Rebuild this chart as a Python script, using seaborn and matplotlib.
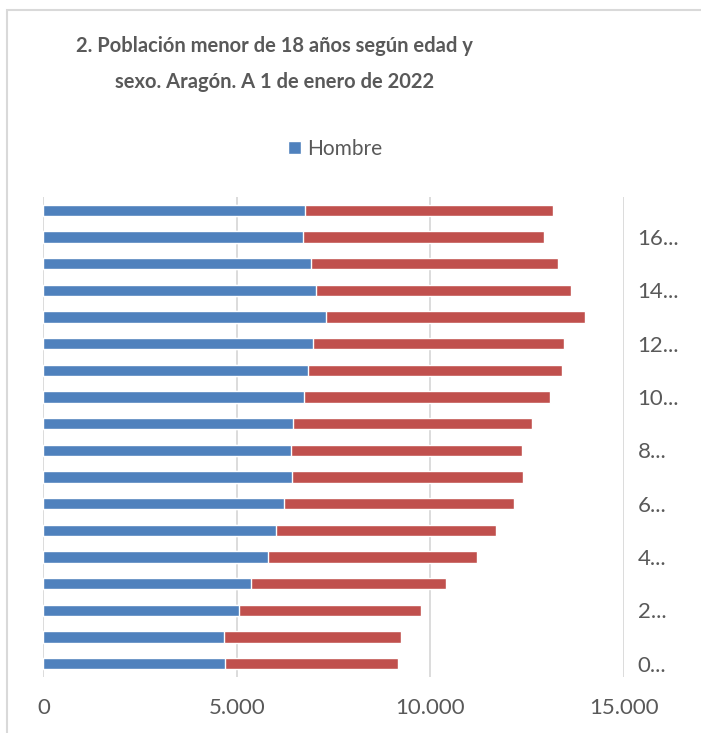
import matplotlib
matplotlib.use("Agg")
import matplotlib.pyplot as plt
from matplotlib.ticker import FuncFormatter
from matplotlib.patches import Rectangle
import seaborn as sns
import pandas as pd

# edad (años cumplidos) y poblacion por sexo, Aragón 1/1/2022
edades = [str(a) for a in range(18)]
hombres = [4690, 4680, 5050, 5360, 5795, 6010, 6210, 6435, 6390,
           6460, 6735, 6840, 6970, 7305, 7045, 6915, 6720, 6755]
mujeres = [4470, 4560, 4720, 5050, 5415, 5680, 5955, 5955, 5980,
           6180, 6365, 6565, 6495, 6695, 6600, 6385, 6210, 6425]
etiquetas_y = [f"{a}..." if int(a) % 2 == 0 else "" for a in edades]
ticks_x = [0, 5000, 10000, 15000]

df = pd.DataFrame({"edad": edades, "Hombre": hombres, "Mujer": mujeres})
df["total"] = df["Hombre"] + df["Mujer"]

sns.set_style("white")
plt.rcParams["font.family"] = ["Lato", "DejaVu Sans"]
gris = "#595959"

fig = plt.figure(figsize=(7.01, 7.33), dpi=100)
ax = fig.add_axes([0.0618, 0.0764, 0.8279, 0.6549])

orden = list(reversed(edades))
sns.barplot(data=df, y="edad", x="total", order=orden, orient="h",
            color="#C0504D", saturation=1, width=0.42, ax=ax, label="Mujer")
sns.barplot(data=df, y="edad", x="Hombre", order=orden, orient="h",
            color="#4F81BD", saturation=1, width=0.42, ax=ax, label="Hombre")

ax.set_xlim(0, 15000)
ax.set_ylim(17.5, -0.5)
ax.set_xticks(ticks_x)
ax.xaxis.set_major_formatter(FuncFormatter(lambda v, p: f"{int(v):,}".replace(",", ".")))
ax.set_yticks(range(len(orden)))
ax.set_yticklabels([etiquetas_y[int(e)] for e in orden])
ax.yaxis.tick_right()
ax.tick_params(axis="both", length=0, labelsize=16, colors=gris)
ax.tick_params(axis="x", pad=15)
ax.tick_params(axis="y", pad=10)
ax.set_xlabel("")
ax.set_ylabel("")
ax.grid(axis="x", color="#D9D9D9", linewidth=1.3)
ax.set_axisbelow(True)
for s in ax.spines.values():
    s.set_visible(False)

handles, labels = ax.get_legend_handles_labels()
h = [hh for hh, ll in zip(handles, labels) if ll == "Hombre"]
ax.legend(h, ["Hombre"], loc="center", frameon=False, fontsize=15,
          handlelength=0.6, handleheight=0.6, handletextpad=0.3,
          labelcolor=gris)
ax.get_legend().set_bbox_to_anchor((0.478, 1 - 149 / 733), transform=fig.transFigure)

fig.text(0.392, 1 - 64 / 733, "2. Población menor de 18 años según edad y\nsexo. Aragón. A 1 de enero de 2022",
         ha="center", va="center", multialignment="center", fontsize=14.5,
         fontweight="bold", color=gris, linespacing=1.95)

fig.patches.append(Rectangle((7 / 701, -0.1), 1.2, 1 - 10 / 733 + 0.1,
                             transform=fig.transFigure, fill=False,
                             edgecolor="#D9D9D9", linewidth=1.5))

fig.savefig("out.png", dpi=100)
